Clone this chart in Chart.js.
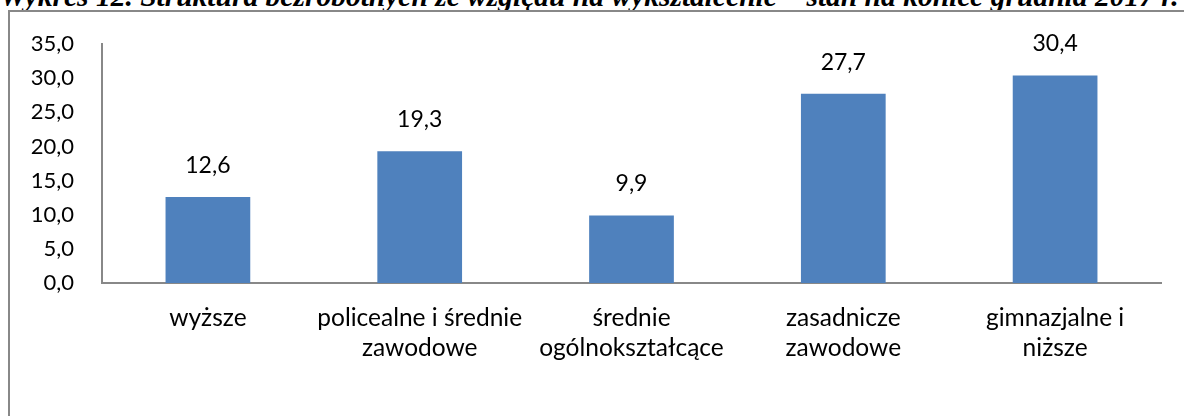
<!DOCTYPE html>
<html lang="pl">
<head>
<meta charset="utf-8">
<title>Wykres 12</title>
<script src="https://cdn.jsdelivr.net/npm/chart.js@4"></script>
<style>
  html, body { margin: 0; padding: 0; background: #fff; }
  body { width: 1184px; height: 416px; position: relative; overflow: hidden; }
  #tytul {
    position: absolute; left: 0; top: -20px; white-space: nowrap;
    font-family: "Liberation Serif", serif; font-weight: bold; font-style: italic;
    font-size: 29.5px; line-height: 1.15; color: #000;
  }
  #ramka {
    position: absolute; left: 8px; top: 10px; width: 1200px; height: 420px;
    border-top: 2px solid #888; border-left: 2px solid #888;
  }
  #wrap { position: absolute; left: 0; top: 0; width: 1184px; height: 416px; }
</style>
</head>
<body>
<div id="tytul">Wykres 12. Struktura bezrobotnych ze względu na wykształcenie – stan na koniec grudnia 2017 r.</div>
<div id="ramka"></div>
<div id="wrap"><canvas id="wykres"></canvas></div>
<script>
// Kategorie (wykształcenie) i wartości w %
const kategorie = [
  ["wyższe"],
  ["policealne i średnie", "zawodowe"],
  ["średnie", "ogólnokształcące"],
  ["zasadnicze", "zawodowe"],
  ["gimnazjalne i", "niższe"]
];
const wartosci = [12.6, 19.3, 9.9, 27.7, 30.4];

// Oś Y
const osMin = 0;
const osMax = 35;
const osKrok = 5;

const czcionka = "Lato, 'Open Sans', sans-serif";
const szaryOs = "#888888";

// Format z przecinkiem, np. 12,6
function fmt(v) {
  return Number(v).toFixed(1).replace(".", ",");
}

// Etykiety wartości nad słupkami
const etykietyNadSlupkami = {
  id: "etykietyNadSlupkami",
  afterDatasetsDraw(chart) {
    const ctx = chart.ctx;
    const meta = chart.getDatasetMeta(0);
    ctx.save();
    ctx.font = "23px " + czcionka;
    ctx.fillStyle = "#000";
    ctx.textAlign = "center";
    ctx.textBaseline = "bottom";
    meta.data.forEach((bar, i) => {
      ctx.fillText(fmt(wartosci[i]), bar.x, bar.y - 20);
    });
    ctx.restore();
  }
};

new Chart(document.getElementById("wykres"), {
  type: "bar",
  data: {
    labels: kategorie,
    datasets: [{
      data: wartosci,
      backgroundColor: "#4F81BD",
      borderWidth: 0,
      barPercentage: 0.4,
      categoryPercentage: 1.0
    }]
  },
  options: {
    responsive: true,
    maintainAspectRatio: false,
    animation: false,
    layout: { padding: { left: 0, top: 44, right: 23, bottom: 0 } },
    plugins: {
      legend: { display: false },
      tooltip: { enabled: false }
    },
    scales: {
      x: {
        grid: { display: false },
        border: { display: true, color: szaryOs, width: 2 },
        ticks: {
          color: "#000",
          padding: 12,
          maxRotation: 0,
          autoSkip: false,
          font: { family: czcionka, size: 24.5, lineHeight: 1.22 }
        },
        afterFit(scale) { scale.height = 133; }
      },
      y: {
        min: osMin,
        max: osMax,
        grid: { display: false },
        border: { display: true, color: szaryOs, width: 2 },
        ticks: {
          stepSize: osKrok,
          color: "#000",
          padding: 20,
          font: { family: czcionka, size: 22 },
          callback: (v) => fmt(v)
        },
        afterFit(scale) { scale.width = 102; }
      }
    }
  },
  plugins: [etykietyNadSlupkami]
});
</script>
</body>
</html>
